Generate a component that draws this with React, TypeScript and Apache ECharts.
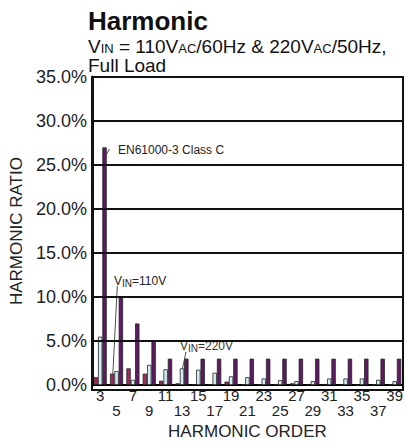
import React, { useEffect, useRef } from 'react';
import * as echarts from 'echarts';

const harmonicOrders = ['3', '5', '7', '9', '11', '13', '15', '17', '19', '21', '23', '25', '27', '29', '31', '33', '35', '37', '39'];
const vin110 = [0.9, 1.3, 1.9, 1.3, 0.5, 0.2, 0.05, 0.1, 0.4, 0.03, 0.05, 0.05, 0.2, 0.05, 0.05, 0.05, 0.05, 0.05, 0.05];
const vin220 = [5.5, 1.6, 0.6, 2.3, 1.8, 1.9, 1.75, 1.4, 1.0, 0.9, 0.75, 0.56, 0.45, 0.45, 0.75, 0.75, 0.75, 0.6, 0.45];
const classC = [27, 10, 7, 5, 3, 3, 3, 3, 3, 3, 3, 3, 3, 3, 3, 3, 3, 3, 3];
const gridValues = [5, 10, 15, 20, 25, 30, 35];
const yMin = 0;
const yMax = 35;
const yStep = 5;

const FONT = 'Liberation Sans, Arial, Helvetica, sans-serif';
const GRID = { left: 92, right: 3, top: 77, bottom: 55 };
const W = 406;
const H = 445;

export default function App() {
  const ref = useRef<HTMLDivElement>(null);
  useEffect(() => {
    if (!ref.current) return;
    const chart = echarts.init(ref.current, null, { renderer: 'svg' });
    const border = { color: '#222', width: 0.8 };
    chart.setOption({
      animation: false,
      backgroundColor: '#fff',
      grid: { ...GRID, containLabel: false },
      xAxis: {
        type: 'category',
        data: harmonicOrders,
        name: 'HARMONIC ORDER',
        nameLocation: 'middle',
        nameGap: 36,
        nameTextStyle: { fontFamily: FONT, fontSize: 17, color: '#222' },
        axisLine: { show: true, lineStyle: { color: '#000', width: 1.5 } },
        axisTick: { show: false },
        splitLine: { show: false },
        axisLabel: {
          interval: 0,
          margin: 3,
          fontFamily: FONT,
          fontSize: 15,
          lineHeight: 15,
          color: '#222',
          formatter: (v: string, i: number) => (i % 2 === 1 ? '\n' + v : v),
        },
      },
      yAxis: {
        type: 'value',
        min: yMin,
        max: yMax,
        interval: yStep,
        name: 'HARMONIC RATIO',
        nameLocation: 'middle',
        nameGap: 67,
        nameTextStyle: { fontFamily: FONT, fontSize: 17, color: '#222' },
        axisLine: { show: true, lineStyle: { color: '#111', width: 3 } },
        axisTick: { show: false },
        axisLabel: {
          margin: 5,
          fontFamily: FONT,
          fontSize: 18,
          color: '#222',
          formatter: (v: number) => v.toFixed(1) + '%',
        },
        splitLine: { show: true, lineStyle: { color: '#111', width: 1.8, type: 'solid' } },
      },
      series: [
        {
          name: 'VIN=110V',
          type: 'bar',
          data: vin110,
          barGap: '0%',
          barCategoryGap: '20%',
          itemStyle: { color: '#a3295f', borderColor: border.color, borderWidth: border.width },
          markLine: {
            silent: true,
            symbol: 'none',
            animation: false,
            label: { show: false },
            lineStyle: { color: '#111', width: 2, type: 'solid' },
            emphasis: { disabled: true },
            data: gridValues.map((v) => ({ yAxis: v })),
          },
        },
        {
          name: 'VIN=220V',
          type: 'bar',
          data: vin220,
          barGap: '0%',
          barCategoryGap: '20%',
          itemStyle: { color: '#d3eff6', borderColor: border.color, borderWidth: border.width },
        },
        {
          name: 'EN61000-3 Class C',
          type: 'bar',
          data: classC,
          barGap: '0%',
          barCategoryGap: '20%',
          itemStyle: { color: '#5e1a62', borderColor: border.color, borderWidth: border.width },
        },
      ],
      graphic: [
        {
          type: 'rect',
          silent: true,
          z: 100,
          shape: { x: GRID.left, y: GRID.top, width: W - GRID.left - GRID.right, height: H - GRID.top - GRID.bottom },
          style: { fill: 'none', stroke: '#111', lineWidth: 2 },
        },
        { type: 'text', left: 88, top: 8, style: { text: 'Harmonic', fontFamily: FONT, fontWeight: 'bold', fontSize: 26, fill: '#111' } },
        {
          type: 'text',
          left: 88,
          top: 36,
          style: {
            text: '{m|V}{s|IN}{m| = 110V}{s|AC}{m|/60Hz & 220V}{s|AC}{m|/50Hz,}',
            fontFamily: FONT,
            fill: '#111',
            rich: {
              m: { fontFamily: FONT, fontSize: 19, lineHeight: 17, verticalAlign: 'top', fill: '#111' },
              s: { fontFamily: FONT, fontSize: 13, lineHeight: 13, padding: [6, 0, 0, 0], fill: '#111' },
            },
          },
        },
        { type: 'text', left: 88, top: 56, style: { text: 'Full Load', fontFamily: FONT, fontSize: 19, fill: '#111' } },
        { type: 'line', shape: { x1: 103.5, y1: 159, x2: 109.5, y2: 149 }, style: { stroke: '#222', lineWidth: 0.8 } },
        { type: 'text', left: 118, top: 144, style: { text: 'EN61000-3 Class C', fontFamily: FONT, fontSize: 12, fill: '#222' } },
        { type: 'line', shape: { x1: 117.3, y1: 286, x2: 112.7, y2: 377 }, style: { stroke: '#222', lineWidth: 0.8 } },
        {
          type: 'text',
          left: 114,
          top: 273,
          style: {
            text: '{m|V}{s|IN}{m|=110V}',
            fill: '#222',
            rich: {
              m: { fontFamily: FONT, fontSize: 12, lineHeight: 12, verticalAlign: 'top', fill: '#222' },
              s: { fontFamily: FONT, fontSize: 10, lineHeight: 10, padding: [5, 0, 0, 0], fill: '#222' },
            },
          },
        },
        { type: 'line', shape: { x1: 186, y1: 352, x2: 181.7, y2: 372 }, style: { stroke: '#222', lineWidth: 0.8 } },
        {
          type: 'text',
          left: 180,
          top: 338,
          style: {
            text: '{m|V}{s|IN}{m|=220V}',
            fill: '#333',
            rich: {
              m: { fontFamily: FONT, fontSize: 12, lineHeight: 12, verticalAlign: 'top', fill: '#333' },
              s: { fontFamily: FONT, fontSize: 10, lineHeight: 10, padding: [5, 0, 0, 0], fill: '#333' },
            },
          },
        },
      ],
    });
    return () => chart.dispose();
  }, []);
  return <div ref={ref} style={{ position: 'fixed', left: 0, top: 0, width: W, height: H }} />;
}
